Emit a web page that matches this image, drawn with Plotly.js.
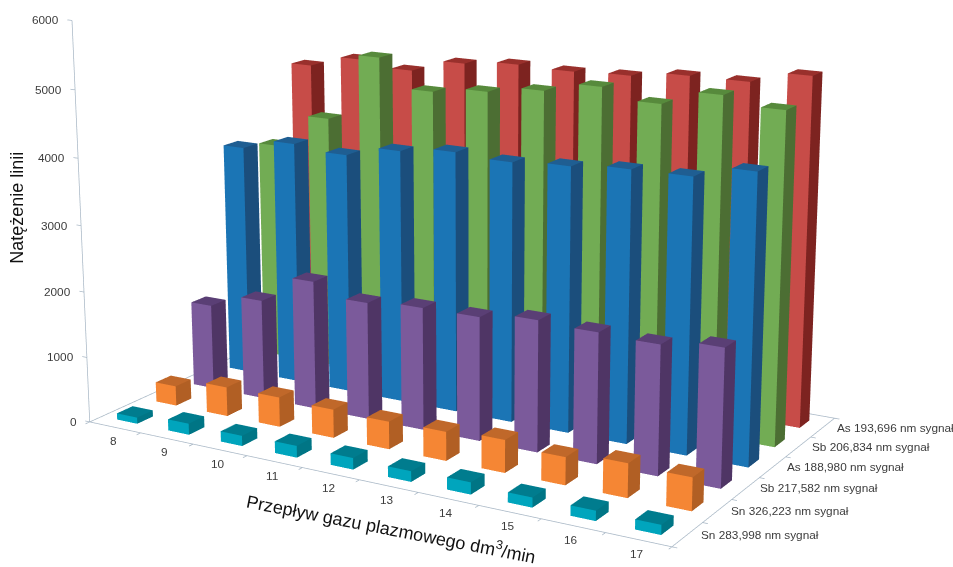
<!DOCTYPE html>
<html>
<head>
<meta charset="utf-8">
<title>Natężenie linii</title>
<script src="https://cdn.plot.ly/plotly-3.0.1.min.js"></script>
<style>
  html, body { margin: 0; background: #fff; overflow: hidden; width: 953px; height: 567px; }
  /* A tall plot area gives the narrow field of view of the 3D column view. */
  #chart { position: absolute; left: 0; top: -734.4px; }
</style>
</head>
<body>
<div id="chart"></div>
<script>
const categories = ['8', '9', '10', '11', '12', '13', '14', '15', '16', '17'];
const seriesNames = [
  'Sn 283,998 nm sygnał',
  'Sn 326,223 nm sygnał',
  'Sb 217,582 nm sygnał',
  'As 188,980 nm sygnał',
  'Sb 206,834 nm sygnał',
  'As 193,696 nm sygnał'
];
const sn283 = [97, 171, 156, 177, 172, 157, 177, 145, 147, 141];
const sn326 = [306, 449, 454, 432, 416, 434, 486, 411, 500, 480];
const sb217 = [1326, 1546, 1981, 1795, 1860, 1867, 1966, 1936, 1911, 2018];
const as188 = [3617, 3786, 3721, 3890, 3981, 3940, 3991, 4058, 4069, 4251];
const sb206 = [3467, 4004, 5055, 4620, 4714, 4823, 4975, 4821, 5046, 4929];
const as193 = [4602, 4787, 4699, 4898, 4970, 4952, 4981, 5071, 5074, 5252];
const valueTicks = [0, 1000, 2000, 3000, 4000, 5000, 6000];

const allSeries = [sn283, sn326, sb217, as188, sb206, as193];
// front, side and top face colour of each series
const faceColors = [
  ['#00a5bd', '#007585', '#007c8e'],
  ['#f58634', '#b15f24', '#c0682a'],
  ['#7b5a9b', '#4f3565', '#5a3f75'],
  ['#1b75b5', '#1b4e7c', '#1f5e92'],
  ['#72ac54', '#4c6e33', '#578a3c'],
  ['#c74c48', '#7d2320', '#99302c']
];
const barWidth = 0.3969, barDepth = 0.3962;
const axisColor = '#a9b8c6';
const labelFont = { family: 'Liberation Sans, Arial, sans-serif', size: 11.8, color: '#3c3c3c' };
const titleFont = { family: 'Liberation Sans, Arial, sans-serif', size: 18, color: '#111111' };

// One mesh per series: six quads-as-triangles on every column.
function columnMesh(values, depthIndex, colors, name) {
  const t = { type: 'mesh3d', name: name, x: [], y: [], z: [], i: [], j: [], k: [], facecolor: [],
    flatshading: true, hoverinfo: 'skip',
    lighting: { ambient: 1, diffuse: 0, specular: 0, roughness: 1, fresnel: 0 } };
  values.forEach((v, c) => {
    const x0 = c + 0.5 - barWidth / 2, x1 = c + 0.5 + barWidth / 2;
    const y0 = depthIndex + 0.5 - barDepth / 2, y1 = depthIndex + 0.5 + barDepth / 2;
    const b = t.x.length;
    [[x0, y0, 0], [x1, y0, 0], [x1, y1, 0], [x0, y1, 0], [x0, y0, v], [x1, y0, v], [x1, y1, v], [x0, y1, v]]
      .forEach(p => { t.x.push(p[0]); t.y.push(p[1]); t.z.push(p[2]); });
    [[0, 1, 5, 0], [0, 5, 4, 0], [1, 2, 6, 1], [1, 6, 5, 1], [4, 5, 6, 2], [4, 6, 7, 2]].forEach(f => {
      t.i.push(b + f[0]); t.j.push(b + f[1]); t.k.push(b + f[2]); t.facecolor.push(colors[f[3]]);
    });
  });
  return t;
}

// Floor outline, value axis and their tick marks, as line segments.
const nC = categories.length, nS = seriesNames.length, zMax = valueTicks[valueTicks.length - 1];
const lx = [], ly = [], lz = [];
function seg(a, b) { lx.push(a[0], b[0], null); ly.push(a[1], b[1], null); lz.push(a[2], b[2], null); }
seg([0, 0, 0], [nC, 0, 0]); seg([nC, 0, 0], [nC, nS, 0]); seg([nC, nS, 0], [0, nS, 0]); seg([0, nS, 0], [0, 0, 0]);
seg([0, 0, 0], [0, 0, zMax]);
for (let c = 0; c <= nC; c++) seg([c, 0, 0], [c, -0.1, 0]);
for (let s = 0; s <= nS; s++) seg([nC, s, 0], [nC + 0.08, s, 0]);
valueTicks.forEach(v => seg([0, 0, v], [-0.09, 0, v]));

const traces = allSeries.map((vals, s) => columnMesh(vals, s, faceColors[s], seriesNames[s]));
traces.push({ type: 'scatter3d', mode: 'lines', x: lx, y: ly, z: lz, hoverinfo: 'skip', showlegend: false,
  line: { color: axisColor, width: 1.5 } });

// All axis text is placed as scene annotations on the data coordinates.
const base = { showarrow: false, xanchor: 'center', yanchor: 'middle' };
const annotations = [];
categories.forEach((c, i) => annotations.push({ ...base, x: i + 0.5, y: 0, z: 0, text: c, font: labelFont, xshift: -2, yshift: -14 }));
seriesNames.forEach((s, i) => annotations.push({ ...base, x: nC, y: i + 0.5, z: 0, text: s, font: labelFont, xanchor: 'left', xshift: 12 }));
valueTicks.forEach(v => annotations.push({ ...base, x: 0, y: 0, z: v, text: String(v), font: labelFont, xanchor: 'right', xshift: -11 }));
annotations.push({ ...base, x: 5, y: 0, z: 0, text: 'Przepływ gazu plazmowego dm<sup>3</sup>/min', font: titleFont, textangle: 11, xshift: 32, yshift: -49 });
annotations.push({ ...base, x: 0, y: 0, z: 3000, text: 'Natężenie linii', font: titleFont, textangle: -90, xshift: -64, yshift: 18 });

const hiddenAxis = { showgrid: false, zeroline: false, showline: false, showticklabels: false, ticks: '',
  showbackground: false, showspikes: false, title: { text: '' } };

Plotly.newPlot('chart', traces, {
  width: 953, height: 1882, margin: { l: 0, r: 0, t: 0, b: 0 }, showlegend: false,
  paper_bgcolor: '#ffffff',
  scene: {
    domain: { x: [0, 1], y: [0, 1] }, aspectmode: 'manual',
    aspectratio: { x: 1.6436, y: 1.0056, z: 1 },
    camera: {
      eye: { x: 2.6830, y: -4.5854, z: 1.3848 },
      center: { x: 0.0698, y: -0.0543, z: 0.0636 },
      up: { x: 0.1016, y: -0.1761, z: 1 }
    },
    xaxis: { ...hiddenAxis, range: [-0.2, nC + 0.2] },
    yaxis: { ...hiddenAxis, range: [-0.2, nS + 0.2] },
    zaxis: { ...hiddenAxis, range: [0, zMax] },
    annotations: annotations
  }
}, { displayModeBar: false });
</script>
</body>
</html>
